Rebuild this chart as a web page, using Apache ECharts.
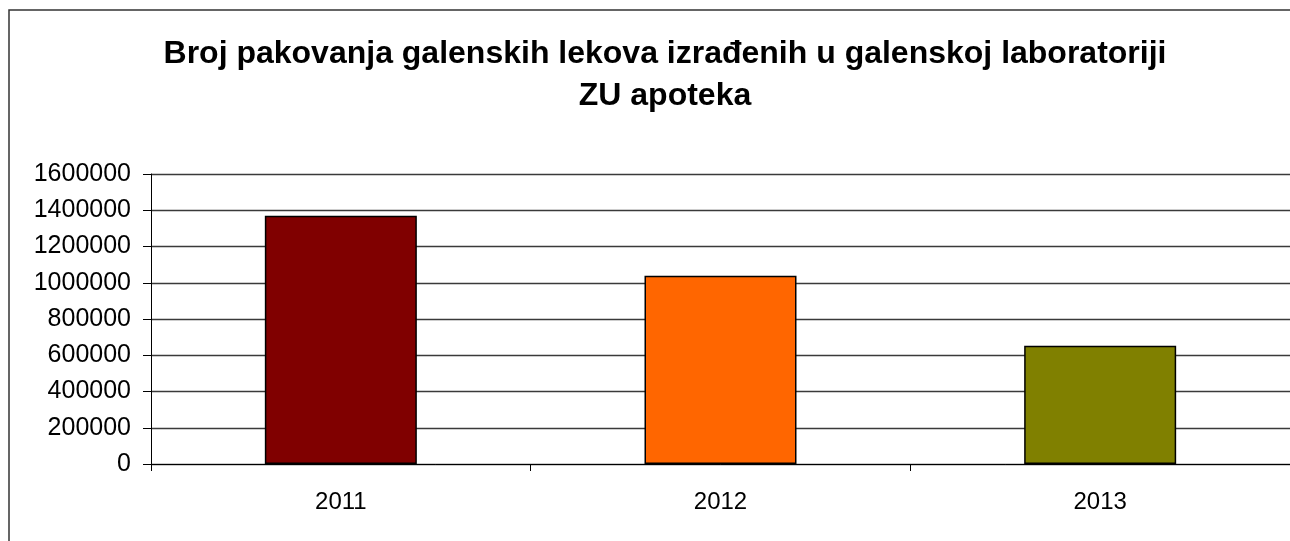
<!DOCTYPE html>
<html>
<head>
<meta charset="utf-8">
<title>Broj pakovanja galenskih lekova</title>
<script src="https://cdn.jsdelivr.net/npm/echarts@6/dist/echarts.min.js"></script>
<style>
  html, body { margin: 0; padding: 0; background: #fff; }
  #chart { width: 1290px; height: 541px; }
</style>
</head>
<body>
<div id="chart"></div>
<script>
// podaci
const years = ['2011', '2012', '2013'];
const packages = [1370000, 1038000, 652000];
const yTicks = [0, 200000, 400000, 600000, 800000, 1000000, 1200000, 1400000, 1600000];
const barColors = ['#800000', '#ff6600', '#808000'];

const chart = echarts.init(document.getElementById('chart'), null, { renderer: 'canvas' });

const font = 'Liberation Sans, Arial, sans-serif';

const option = {
  backgroundColor: '#ffffff',
  animation: false,
  title: {
    text: 'Broj pakovanja galenskih lekova izrađenih u galenskoj laboratoriji\nZU apoteka',
    left: 660,
    top: 28,
    textAlign: 'center',
    textStyle: {
      fontFamily: font,
      fontSize: 32,
      fontWeight: 'bold',
      color: '#000',
      lineHeight: 42
    }
  },
  // okvir grafikona
  graphic: [{
    type: 'rect',
    shape: { x: 9, y: 10, width: 1400, height: 700 },
    style: { fill: 'none', stroke: '#333', lineWidth: 1.5 },
    silent: true
  }],
  grid: {
    left: 151,
    right: -1,
    top: 174,
    bottom: 77,
    containLabel: false
  },
  xAxis: {
    type: 'category',
    data: years,
    axisLine: { show: true, lineStyle: { color: '#000', width: 1 } },
    axisTick: { show: true, length: 7, alignWithLabel: false, lineStyle: { color: '#000' } },
    axisLabel: {
      fontFamily: font,
      fontSize: 24,
      color: '#000',
      margin: 26
    },
    splitLine: { show: false }
  },
  yAxis: {
    type: 'value',
    min: yTicks[0],
    max: yTicks[yTicks.length - 1],
    interval: yTicks[1] - yTicks[0],
    axisLine: { show: true, lineStyle: { color: '#000', width: 1 } },
    axisTick: { show: true, length: 8, lineStyle: { color: '#000' } },
    axisLabel: {
      fontFamily: font,
      fontSize: 25,
      color: '#000',
      margin: 20,
      formatter: function (v) { return String(v); }
    },
    splitLine: { show: true, lineStyle: { color: '#3a3a3a', width: 1.3 } }
  },
  series: [{
    type: 'bar',
    barWidth: 152,
    data: packages.map(function (v, i) {
      return {
        value: v,
        itemStyle: { color: barColors[i], borderColor: '#000', borderWidth: 1.5 }
      };
    })
  }]
};

chart.setOption(option);
</script>
</body>
</html>
